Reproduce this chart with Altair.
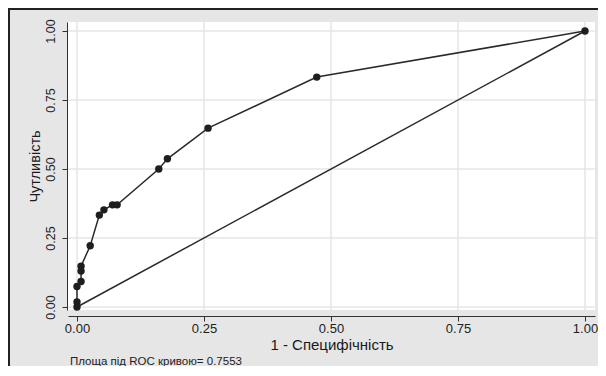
import altair as alt
import pandas as pd

# ROC curve points (1 - specificity, sensitivity)
fpr = [0.0, 0.0, 0.0, 0.008, 0.008, 0.008, 0.026, 0.044, 0.053, 0.070, 0.079,
       0.161, 0.178, 0.258, 0.472, 1.0]
tpr = [0.0, 0.0185, 0.074, 0.0926, 0.130, 0.148, 0.222, 0.333, 0.352, 0.370, 0.370,
       0.500, 0.537, 0.648, 0.833, 1.0]
ref_x = [0.0, 1.0]
ref_y = [0.0, 1.0]
ticks = [0.0, 0.25, 0.5, 0.75, 1.0]
x_title = "1 - Специфічність"
y_title = "Чутливість"
note = "Площа під ROC кривою= 0.7553"

roc = pd.DataFrame({"x": fpr, "y": tpr, "order": list(range(len(fpr)))})
diag = pd.DataFrame({"x": ref_x, "y": ref_y})
grid = pd.DataFrame({"v": ticks})

FONT = "Liberation Sans"
XD = [-0.0177, 1.0197]
YD = [-0.0109, 1.0326]
xs = alt.Scale(domain=XD, nice=False, zero=False)
ys = alt.Scale(domain=YD, nice=False, zero=False)

xa = alt.Axis(title=x_title, values=ticks, format=".2f", grid=False,
              offset=6, tickSize=5, tickColor="#333", domainColor="#333",
              labelFont=FONT, labelFontSize=13, labelColor="#222",
              labelPadding=1, titleFont=FONT, titleFontSize=15,
              titleFontWeight="normal", titleColor="#1a1a1a", titlePadding=2)
ya = alt.Axis(title=y_title, values=ticks, format=".2f", grid=False,
              offset=1, tickSize=5, tickColor="#333", domainColor="#333",
              labelFont=FONT, labelFontSize=12.5, labelColor="#222",
              labelAngle=270, labelAlign="center", labelBaseline="bottom",
              labelPadding=5, titleFont=FONT, titleFontSize=14.5,
              titleFontWeight="normal", titleColor="#1a1a1a", titlePadding=2)

X = lambda f: alt.X(f, scale=xs, axis=xa)
Y = lambda f: alt.Y(f, scale=ys, axis=ya)

vgrid = alt.Chart(grid).mark_rule(color="#e6e6e6", strokeWidth=1.5).encode(x=X("v:Q"))
hgrid = alt.Chart(grid).mark_rule(color="#e6e6e6", strokeWidth=1.5).encode(y=Y("v:Q"))

diag_line = alt.Chart(diag).mark_line(color="#2a2a2a", strokeWidth=1.5).encode(
    x=X("x:Q"), y=Y("y:Q"))

roc_line = alt.Chart(roc).mark_line(color="#2a2a2a", strokeWidth=1.5).encode(
    x=X("x:Q"), y=Y("y:Q"), order="order:Q")

roc_pts = alt.Chart(roc).mark_circle(color="#1e1e1e", size=55, opacity=1).encode(
    x=X("x:Q"), y=Y("y:Q"))

note_text = alt.Chart(pd.DataFrame({"t": [note]})).mark_text(
    align="left", baseline="middle", font=FONT, fontSize=11.5, color="#222", clip=False
).encode(text="t:N", x=alt.value(2), y=alt.value(340))

left_border = alt.Chart(pd.DataFrame({"a": [0]})).mark_rule(
    color="#222", strokeWidth=2, clip=False
).encode(x=alt.value(-59), y=alt.value(-13), y2=alt.value(344))
top_border = alt.Chart(pd.DataFrame({"a": [0]})).mark_rule(
    color="#222", strokeWidth=2, clip=False
).encode(x=alt.value(-60), x2=alt.value(530), y=alt.value(-13))

chart = alt.layer(vgrid, hgrid, diag_line, roc_line, roc_pts, note_text,
                  left_border, top_border).properties(
    width=527, height=288,
    background="#e6e6e6",
    padding={"left": 60, "top": 14, "right": 3, "bottom": 56},
    autosize=alt.AutoSizeParams(type="none"),
).configure_view(fill="white", stroke=None)

chart.save("out.html", embed_options={"renderer": "svg", "actions": False})
